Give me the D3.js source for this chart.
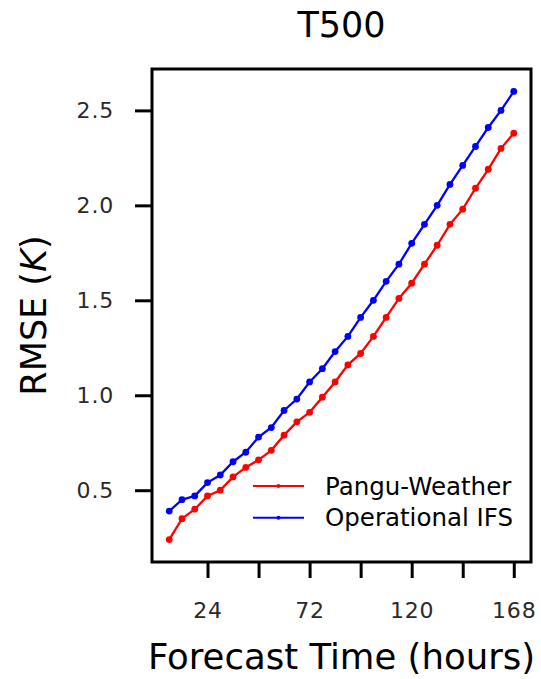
<!DOCTYPE html>
<html>
<head>
<meta charset="utf-8">
<script src="https://cdn.jsdelivr.net/npm/d3@7"></script>
<style>
  body { margin: 0; background: #fff; }
  text { font-family: "DejaVu Sans", sans-serif; }
</style>
</head>
<body>
<div id="chart"></div>
<script>
// data: lead time (h) and RMSE (K) of T500
var hours = [6, 12, 18, 24, 30, 36, 42, 48, 54, 60, 66, 72, 78, 84,
             90, 96, 102, 108, 114, 120, 126, 132, 138, 144, 150, 156, 162, 168];
var pangu = [0.24, 0.35, 0.40, 0.47, 0.50, 0.57, 0.62, 0.66, 0.71, 0.79, 0.86, 0.91, 0.99, 1.07,
             1.16, 1.22, 1.31, 1.41, 1.51, 1.59, 1.69, 1.79, 1.90, 1.98, 2.09, 2.19, 2.30, 2.38];
var ifs   = [0.39, 0.45, 0.47, 0.54, 0.58, 0.65, 0.70, 0.78, 0.83, 0.92, 0.98, 1.07, 1.14, 1.23,
             1.31, 1.41, 1.50, 1.60, 1.69, 1.80, 1.90, 2.00, 2.11, 2.21, 2.31, 2.41, 2.50, 2.60];
var seriesNames = ["Pangu-Weather", "Operational IFS"];
var seriesColors = ["#ff0000", "#0000ff"];
var xTicks = [24, 48, 72, 96, 120, 144, 168];
var xTickLabels = [24, 72, 120, 168];
var yTicks = [0.5, 1.0, 1.5, 2.0, 2.5];

var W = 541, H = 679;
var margin = { top: 69, right: 10, bottom: 117, left: 152 };
var width = W - margin.left - margin.right;
var height = H - margin.top - margin.bottom;

var svg = d3.select("#chart").append("svg")
  .attr("width", W)
  .attr("height", H);

// matplotlib-style 5% margins around the data
function padded(ext) {
  var m = (ext[1] - ext[0]) * 0.05;
  return [ext[0] - m, ext[1] + m];
}
var xScale = d3.scaleLinear()
  .domain(padded(d3.extent(hours)))
  .range([0, width]);
var yScale = d3.scaleLinear()
  .domain(padded([d3.min(pangu.concat(ifs)), d3.max(pangu.concat(ifs))]))
  .range([height, 0]);

var g = svg.append("g")
  .attr("transform", "translate(" + margin.left + "," + margin.top + ")");

// axes
var xAxis = d3.axisBottom(xScale)
  .tickValues(xTicks)
  .tickSize(16)
  .tickSizeOuter(0)
  .tickPadding(24)
  .tickFormat(function(d) { return xTickLabels.indexOf(d) >= 0 ? d : ""; });

var yAxis = d3.axisLeft(yScale)
  .tickValues(yTicks)
  .tickSize(17)
  .tickSizeOuter(0)
  .tickPadding(21)
  .tickFormat(d3.format(".1f"));

var gx = g.append("g")
  .attr("transform", "translate(0," + height + ")")
  .call(xAxis);
var gy = g.append("g").call(yAxis);

[gx, gy].forEach(function(a) {
  a.select(".domain").remove();
  a.selectAll(".tick line").attr("stroke", "#000").attr("stroke-width", 3);
  a.selectAll(".tick text")
    .attr("fill", "#2a2a2a")
    .style("font-size", "22px")
    .style("letter-spacing", "0.8px")
    .style("font-family", "'DejaVu Sans', sans-serif");
});

// lines and markers
var line = d3.line()
  .x(function(d) { return xScale(d[0]); })
  .y(function(d) { return yScale(d[1]); });

[pangu, ifs].forEach(function(vals, i) {
  var pts = hours.map(function(h, j) { return [h, vals[j]]; });
  g.append("path")
    .datum(pts)
    .attr("fill", "none")
    .attr("stroke", seriesColors[i])
    .attr("stroke-width", 2.3)
    .attr("d", line);
  g.selectAll("circle.s" + i)
    .data(pts)
    .enter()
    .append("circle")
    .attr("class", "s" + i)
    .attr("cx", function(d) { return xScale(d[0]); })
    .attr("cy", function(d) { return yScale(d[1]); })
    .attr("r", 3.4)
    .attr("fill", seriesColors[i]);
});

// frame
g.append("rect")
  .attr("width", width)
  .attr("height", height)
  .attr("fill", "none")
  .attr("stroke", "#000")
  .attr("stroke-width", 3);

// legend
var legend = g.append("g")
  .attr("transform", "translate(" + (253 - margin.left) + "," + (486 - margin.top) + ")");
seriesNames.forEach(function(name, i) {
  var row = legend.append("g").attr("transform", "translate(0," + (i * 31.7) + ")");
  row.append("line")
    .attr("x1", 0).attr("x2", 51)
    .attr("stroke", seriesColors[i])
    .attr("stroke-width", 2);
  row.append("circle")
    .attr("cx", 25.5)
    .attr("r", 2)
    .attr("fill", seriesColors[i]);
  row.append("text")
    .attr("x", 72)
    .attr("y", 8.5)
    .attr("fill", "#000")
    .style("font-size", "24.5px")
    .text(name);
});

// title and axis labels
svg.append("text")
  .attr("x", margin.left + width / 2)
  .attr("y", 37)
  .attr("text-anchor", "middle")
  .style("font-size", "35px")
  .text("T500");

svg.append("text")
  .attr("x", margin.left + width / 2)
  .attr("y", 669)
  .attr("text-anchor", "middle")
  .style("font-size", "35.5px")
  .text("Forecast Time (hours)");

var yl = svg.append("text")
  .attr("transform", "translate(46," + (margin.top + height / 2) + ") rotate(-90)")
  .attr("text-anchor", "middle")
  .style("font-size", "35px");
yl.append("tspan").text("RMSE (");
yl.append("tspan").style("font-style", "italic").text("K");
yl.append("tspan").text(")");
</script>
</body>
</html>
